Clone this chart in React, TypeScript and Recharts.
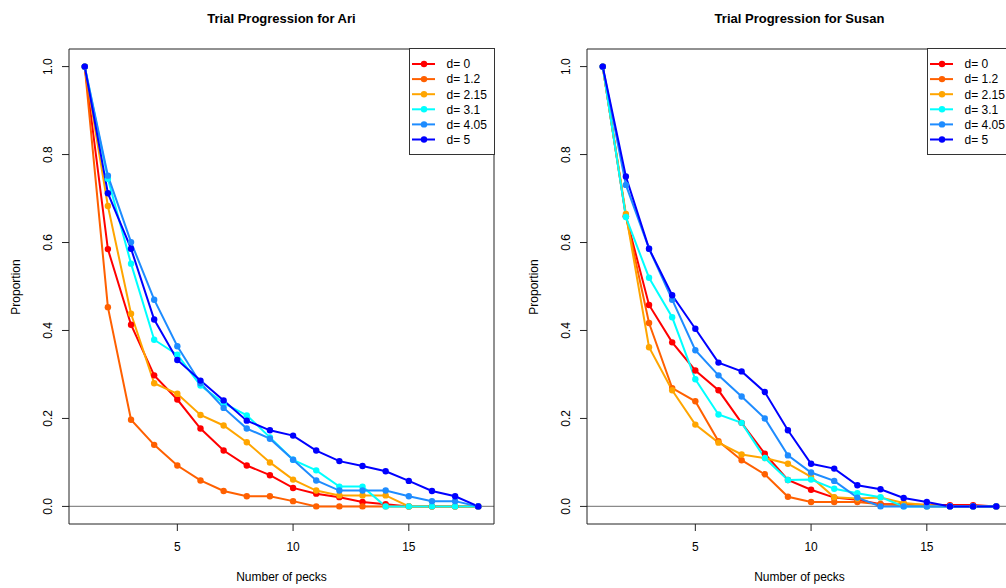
import React from 'react';
import { LineChart, Line, XAxis, YAxis, ReferenceLine } from 'recharts';

const pecks = [1, 2, 3, 4, 5, 6, 7, 8, 9, 10, 11, 12, 13, 14, 15, 16, 17, 18];
const dLabels = ['d= 0', 'd= 1.2', 'd= 2.15', 'd= 3.1', 'd= 4.05', 'd= 5'];
const seriesColors = ['#FF0000', '#FF6000', '#FFA500', '#00FFFF', '#1E8CFF', '#0000FF'];
const xTicks = [5, 10, 15];
const yTicks = [0, 0.2, 0.4, 0.6, 0.8, 1.0];

// Ari
const ariD0 = [1, 0.585, 0.413, 0.298, 0.243, 0.177, 0.127, 0.093, 0.071, 0.042, 0.029, 0.021, 0.01, 0.005, 0, 0, 0, 0];
const ariD12 = [1, 0.453, 0.197, 0.14, 0.093, 0.059, 0.035, 0.023, 0.023, 0.012, 0, 0, 0, 0, 0, 0, 0, 0];
const ariD215 = [1, 0.683, 0.438, 0.28, 0.256, 0.208, 0.184, 0.146, 0.1, 0.061, 0.036, 0.025, 0.025, 0.025, 0, 0, 0, 0];
const ariD31 = [1, 0.745, 0.552, 0.379, 0.345, 0.275, 0.235, 0.207, 0.157, 0.106, 0.082, 0.045, 0.045, 0, 0, 0, 0, 0];
const ariD405 = [1, 0.752, 0.601, 0.47, 0.364, 0.28, 0.224, 0.177, 0.154, 0.106, 0.059, 0.036, 0.036, 0.036, 0.023, 0.012, 0.012, 0];
const ariD5 = [1, 0.712, 0.586, 0.425, 0.333, 0.286, 0.241, 0.195, 0.173, 0.161, 0.127, 0.103, 0.092, 0.08, 0.058, 0.035, 0.023, 0];

// Susan
const susanD0 = [1, 0.66, 0.458, 0.373, 0.309, 0.264, 0.19, 0.12, 0.06, 0.038, 0.02, 0.015, 0.005, 0.005, 0.003, 0.003, 0.003, 0];
const susanD12 = [1, 0.66, 0.417, 0.269, 0.239, 0.148, 0.105, 0.073, 0.022, 0.01, 0.01, 0.01, 0.005, 0.003, 0, 0, 0, 0];
const susanD215 = [1, 0.665, 0.362, 0.264, 0.186, 0.145, 0.118, 0.11, 0.097, 0.067, 0.021, 0.018, 0.02, 0.008, 0.003, 0, 0, 0];
const susanD31 = [1, 0.658, 0.52, 0.43, 0.289, 0.209, 0.19, 0.11, 0.06, 0.061, 0.04, 0.03, 0.021, 0, 0, 0, 0, 0];
const susanD405 = [1, 0.731, 0.586, 0.47, 0.355, 0.298, 0.25, 0.2, 0.116, 0.077, 0.058, 0.02, 0, 0, 0, 0, 0, 0];
const susanD5 = [1, 0.75, 0.586, 0.48, 0.404, 0.327, 0.307, 0.26, 0.173, 0.097, 0.086, 0.048, 0.039, 0.019, 0.01, 0, 0, 0];

const ariSeries = [ariD0, ariD12, ariD215, ariD31, ariD405, ariD5];
const susanSeries = [susanD0, susanD12, susanD215, susanD31, susanD405, susanD5];

const FONT = '"Liberation Sans", Arial, Helvetica, sans-serif';
const X_DOMAIN = [0.32, 18.68];
const Y_DOMAIN = [-0.04, 1.04];

function buildRows(series: number[][]) {
  return pecks.map((p, i) => {
    const row: any = { pecks: p };
    series.forEach((s, j) => {
      row['s' + j] = s[i];
    });
    return row;
  });
}

const YTick = (props: any) => {
  const { x, y, payload } = props;
  const bx = x - 8;
  return (
    <text
      x={bx}
      y={y}
      transform={`rotate(-90, ${bx}, ${y})`}
      textAnchor="middle"
      fontSize={12}
      fontFamily={FONT}
      fill="#000"
    >
      {Number(payload.value).toFixed(1)}
    </text>
  );
};

const PLOT_L = 69;
const PLOT_R = 494;
const PLOT_T = 49;
const PLOT_B = 524;
const PANEL_W = 518;
const AX_W = 40;

function LegendBox() {
  const rowH = 15.1;
  return (
    <svg
      width={86}
      height={108}
      style={{ position: 'absolute', left: PLOT_R - 85, top: PLOT_T - 1 }}
    >
      <rect x={0.5} y={0.5} width={85} height={106} fill="#fff" stroke="#333" strokeWidth={1} />
      {dLabels.map((lab, i) => {
        const cy = 16 + i * rowH;
        return (
          <g key={lab}>
            <line x1={3} x2={26} y1={cy} y2={cy} stroke={seriesColors[i]} strokeWidth={2} />
            <circle cx={15} cy={cy} r={3.2} fill={seriesColors[i]} />
            <text x={37.5} y={cy + 4.3} fontSize={12} fontFamily={FONT} fill="#000">
              {lab}
            </text>
          </g>
        );
      })}
    </svg>
  );
}

function Panel({ title, series, left }: { title: string; series: number[][]; left: number }) {
  const rows = buildRows(series);
  const cx = (PLOT_L + PLOT_R) / 2;
  return (
    <div style={{ position: 'absolute', left, top: 0, width: PANEL_W, height: 588 }}>
      <LineChart
        width={PANEL_W}
        height={588}
        data={rows}
        margin={{
          top: PLOT_T - 1,
          right: PANEL_W - PLOT_R - 1,
          bottom: 588 - PLOT_B - AX_W,
          left: PLOT_L - AX_W,
        }}
      >
        <XAxis
          dataKey="pecks"
          type="number"
          domain={X_DOMAIN}
          allowDataOverflow
          ticks={xTicks}
          height={AX_W}
          tickSize={7}
          tickMargin={11}
          stroke="#222"
          tick={{ fontSize: 12, fontFamily: FONT, fill: '#000' }}
        />
        <XAxis
          xAxisId="top"
          orientation="top"
          dataKey="pecks"
          type="number"
          domain={X_DOMAIN}
          allowDataOverflow
          height={1}
          tick={false}
          tickLine={false}
          stroke="#222"
        />
        <YAxis
          type="number"
          domain={Y_DOMAIN}
          allowDataOverflow
          ticks={yTicks}
          width={AX_W}
          tickSize={7}
          stroke="#222"
          tick={<YTick />}
        />
        <YAxis
          yAxisId="right"
          orientation="right"
          type="number"
          domain={Y_DOMAIN}
          allowDataOverflow
          width={1}
          tick={false}
          tickLine={false}
          stroke="#222"
        />
        <ReferenceLine y={0} stroke="#8a8a8a" strokeWidth={1.2} />
        {series.map((_, i) => (
          <Line
            key={i}
            dataKey={'s' + i}
            type="linear"
            stroke={seriesColors[i]}
            strokeWidth={2}
            dot={{ r: 3.2, fill: seriesColors[i], stroke: 'none' }}
            activeDot={false}
            isAnimationActive={false}
          />
        ))}
      </LineChart>
      <LegendBox />
      <div
        style={{
          position: 'absolute',
          left: cx,
          top: 18,
          transform: 'translate(-50%, -50%)',
          fontFamily: FONT,
          fontSize: 13,
          fontWeight: 'bold',
          whiteSpace: 'nowrap',
          lineHeight: 1,
        }}
      >
        {title}
      </div>
      <div
        style={{
          position: 'absolute',
          left: cx,
          top: 577,
          transform: 'translate(-50%, -50%)',
          fontFamily: FONT,
          fontSize: 12,
          whiteSpace: 'nowrap',
          lineHeight: 1,
        }}
      >
        Number of pecks
      </div>
      <div
        style={{
          position: 'absolute',
          left: 16,
          top: (PLOT_T + PLOT_B) / 2,
          transform: 'translate(-50%, -50%) rotate(-90deg)',
          fontFamily: FONT,
          fontSize: 12,
          whiteSpace: 'nowrap',
          lineHeight: 1,
        }}
      >
        Proportion
      </div>
    </div>
  );
}

export default function App() {
  return (
    <div
      style={{
        position: 'absolute',
        left: 0,
        top: 0,
        width: 1006,
        height: 588,
        overflow: 'hidden',
        background: '#fff',
      }}
    >
      <Panel title="Trial Progression for Ari" series={ariSeries} left={0} />
      <Panel title="Trial Progression for Susan" series={susanSeries} left={PANEL_W} />
    </div>
  );
}
